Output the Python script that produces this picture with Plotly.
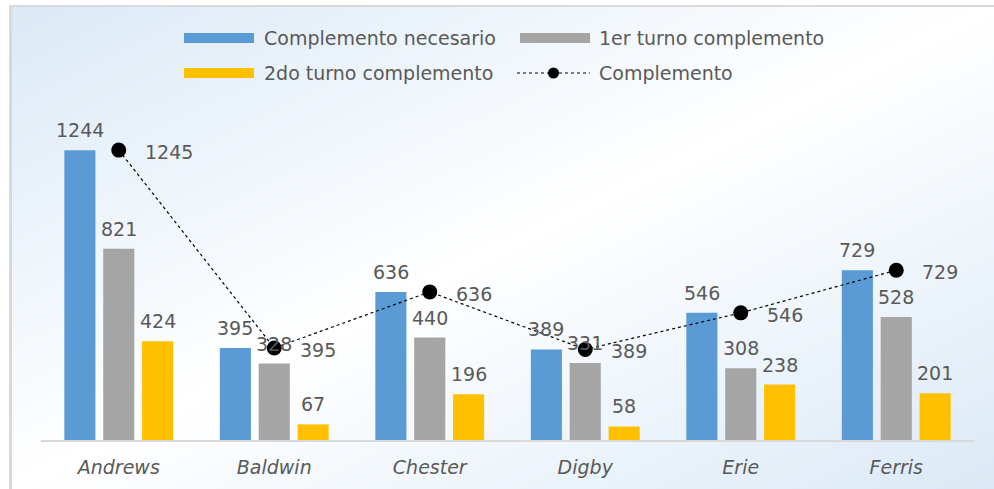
import numpy as np
import zlib, struct, base64
import plotly.graph_objects as go

# ---------------- data ----------------
categories = ["Andrews", "Baldwin", "Chester", "Digby", "Erie", "Ferris"]
series_names = ["Complemento necesario", "1er turno complemento",
                "2do turno complemento", "Complemento"]
necesario = [1244, 395, 636, 389, 546, 729]
turno1 = [821, 328, 440, 331, 308, 528]
turno2 = [424, 67, 196, 58, 238, 201]
complemento = [1245, 395, 636, 389, 546, 729]

# ---------------- layout geometry ----------------
W, H = 994, 489
ML, MR, MT, MB = 41, 20, 114, 49
PW, PH = W - ML - MR, H - MT - MB
BARGAP, GROUPGAP = 0.25, 0.2
SLOT = PW / len(categories) * (1 - BARGAP) / 3  # px width of one bar slot


def px_x(px):
    return (px - ML) / PW


def px_y(py):
    return (H - MB - py) / PH


# ---------------- gradient background (PNG) ----------------
yy, xx = np.mgrid[0:H, 0:W].astype(float)
u = (xx - 10) / (W - 10)
v = (yy - 6) / (H - 6)
b = np.clip(np.abs(u + v - 1), 0, 1)
white = np.array([255, 255, 255], float)
blue = np.array([219, 233, 246], float)
img = white + (blue - white) * b[..., None]
img[:5, :] = 255
img[:, :9] = 255
img[5:7, 9:] = 217
img[5:, 9:12] = 217
raw = np.round(img).astype(np.uint8)
filt = raw.astype(np.int16).copy()
filt[:, 1:, :] = (raw[:, 1:, :].astype(np.int16) - raw[:, :-1, :].astype(np.int16)) % 256
filt = filt.astype(np.uint8).reshape(H, -1)
rows = np.concatenate([np.ones((H, 1), np.uint8), filt], axis=1)


def chunk(t, d):
    return struct.pack(">I", len(d)) + t + d + struct.pack(">I", zlib.crc32(t + d) & 0xffffffff)


png = (b"\x89PNG\r\n\x1a\n"
       + chunk(b"IHDR", struct.pack(">IIBBBBB", W, H, 8, 2, 0, 0, 0))
       + chunk(b"IDAT", zlib.compress(rows.tobytes(), 9))
       + chunk(b"IEND", b""))
bg_src = "data:image/png;base64," + base64.b64encode(png).decode()

# ---------------- figure ----------------
FONT = "DejaVu Sans"
TXT = "#595959"
colors = ["#5B9BD5", "#A5A5A5", "#FFC000"]
lbl_font = dict(family=FONT, size=19, color=TXT)

fig = go.Figure()
annotations = []
bar_series = [necesario, turno1, turno2]
for k, (name, vals, col) in enumerate(zip(series_names[:3], bar_series, colors)):
    fig.add_trace(go.Bar(
        x=categories, y=vals, name=name, marker=dict(color=col, line=dict(width=0)),
        cliponaxis=False,
    ))
    for c, val in zip(categories, vals):
        annotations.append(dict(x=c, y=val, xref="x", yref="y", text=str(val),
                                xanchor="center", yanchor="middle",
                                xshift=(k - 1) * SLOT, yshift=20,
                                showarrow=False, font=lbl_font))

fig.add_trace(go.Scatter(
    x=categories, y=complemento, name=series_names[3],
    mode="lines+markers",
    line=dict(color="black", width=1.2, dash="dot"),
    marker=dict(color="black", size=15), cliponaxis=False,
))

# data labels of the line series, to the right of each marker
for c, val in zip(categories, complemento):
    annotations.append(dict(x=c, y=val, xref="x", yref="y", text=str(val),
                            xanchor="left", yanchor="middle", xshift=24, yshift=-2,
                            showarrow=False, font=lbl_font))

shapes = []
# legend: (symbol left px, text left px, center y px)
leg = [(184, 262, 38), (520, 597, 38), (184, 262, 73), (517, 597, 73)]
for i, (sx, tx, cy) in enumerate(leg):
    if i < 3:
        shapes.append(dict(type="rect", xref="paper", yref="paper",
                           x0=px_x(sx), x1=px_x(sx + 70), y0=px_y(cy + 5), y1=px_y(cy - 5),
                           fillcolor=colors[i], line=dict(width=0)))
    else:
        shapes.append(dict(type="line", xref="paper", yref="paper",
                           x0=px_x(sx), x1=px_x(sx + 73), y0=px_y(cy), y1=px_y(cy),
                           line=dict(color="black", width=1.2, dash="dot")))
        shapes.append(dict(type="circle", xref="paper", yref="paper",
                           x0=px_x(sx + 31), x1=px_x(sx + 42), y0=px_y(cy + 5.5), y1=px_y(cy - 5.5),
                           fillcolor="black", line=dict(width=0)))
    annotations.append(dict(xref="paper", yref="paper", x=px_x(tx), y=px_y(cy),
                            xanchor="left", yanchor="middle", showarrow=False,
                            text=series_names[i], font=lbl_font))

fig.update_layout(
    template="none",
    width=W, height=H,
    margin=dict(l=ML, r=MR, t=MT, b=MB, pad=0),
    paper_bgcolor="white", plot_bgcolor="rgba(0,0,0,0)",
    barmode="group", bargap=BARGAP, bargroupgap=GROUPGAP,
    showlegend=False,
    font=dict(family=FONT, color=TXT),
    xaxis=dict(showline=True, linecolor="#D9D9D9", linewidth=2, showgrid=False,
               ticks="", automargin=False, ticklabelstandoff=9,
               tickfont=dict(family=FONT, size=19, color=TXT, style="italic")),
    yaxis=dict(range=[0, 1400], visible=False, showgrid=False, automargin=False),
    images=[dict(source=bg_src, xref="paper", yref="paper",
                 x=px_x(0), y=px_y(0), sizex=W / PW, sizey=H / PH,
                 xanchor="left", yanchor="top", sizing="stretch", layer="below")],
    shapes=shapes, annotations=annotations,
)

fig.write_html("out.html", config={"displayModeBar": False},
               post_script="document.body.style.margin='0';")
